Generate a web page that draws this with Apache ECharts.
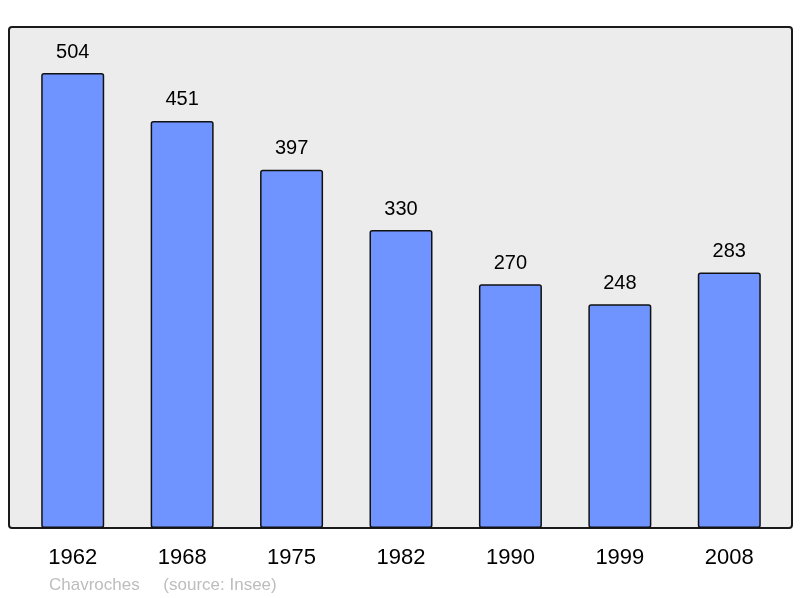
<!DOCTYPE html>
<html><head><meta charset="utf-8">
<script src="https://cdn.jsdelivr.net/npm/echarts@6/dist/echarts.min.js"></script>
<style>html,body{margin:0;padding:0;background:#fff}#c{width:800px;height:598px}</style>
</head><body><div id="c"></div>
<script>
const years = ['1962','1968','1975','1982','1990','1999','2008'];
const population = [504, 451, 397, 330, 270, 248, 283];
const footer = 'Chavroches     (source: Insee)';

const chart = echarts.init(document.getElementById('c'), null, {renderer:'canvas'});
chart.setOption({
  animation:false,
  backgroundColor:'#ffffff',
  textStyle:{fontFamily:'Liberation Sans, Arial, sans-serif'},
  grid:{left:18,right:16,top:27,bottom:70,show:false},
  xAxis:{type:'category',data:years,axisLine:{show:false},axisTick:{show:false},
    axisLabel:{color:'#000',fontSize:22,margin:19,fontFamily:'Liberation Sans, Arial, sans-serif'}},
  yAxis:{type:'value',min:0,max:555,show:false,splitLine:{show:false}},
  series:[{type:'bar',data:population,barWidth:63,z:5,
    itemStyle:{color:'#7094ff',borderColor:'#111',borderWidth:1.5,borderRadius:2},
    label:{show:true,position:'top',distance:11,color:'#000',fontSize:20,fontFamily:'Liberation Sans, Arial, sans-serif'}}],
  graphic:[
    {type:'rect',z:-10,shape:{x:9,y:27,width:783,height:501,r:3},style:{fill:'#ececec',stroke:'#1a1a1a',lineWidth:2}},
    {type:'text',left:49,top:577,style:{text:footer,fill:'#bdbdbd',fontSize:17,fontFamily:'Liberation Sans, Arial, sans-serif'}}]
});
</script></body></html>
